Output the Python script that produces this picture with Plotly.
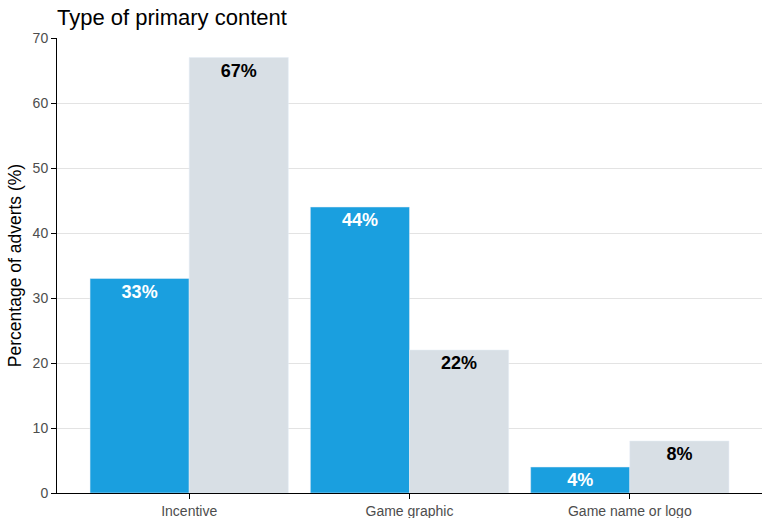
import plotly.graph_objects as go

categories = ["Incentive", "Game graphic", "Game name or logo"]
series_a = [33, 44, 4]
series_b = [67, 22, 8]
labels_a = ["33%", "44%", "4%"]
labels_b = ["67%", "22%", "8%"]

fig = go.Figure()
fig.add_trace(go.Bar(x=categories, y=series_a, text=labels_a, marker_color="#1a9fdf",
                     textposition="inside", insidetextanchor="end",
                     textfont=dict(color="white", size=18, family="Arial", weight="bold"),
                     showlegend=False))
fig.add_trace(go.Bar(x=categories, y=series_b, text=labels_b, marker_color="#d8dfe5",
                     textposition="inside", insidetextanchor="end",
                     textfont=dict(color="black", size=18, family="Arial", weight="bold"),
                     showlegend=False))

fig.update_layout(
    width=763, height=518,
    margin=dict(l=57, r=1, t=38, b=25),
    barmode="group", bargap=0.1, bargroupgap=0,
    plot_bgcolor="white", paper_bgcolor="white",
    font=dict(family="Arial", color="#4d4d4d", size=14),
    title=dict(text="Type of primary content", x=0, xref="paper", y=0.982, yanchor="top",
               xanchor="left", font=dict(size=22, color="black")),
    uniformtext=dict(mode="show", minsize=10),
)
fig.update_xaxes(range=[-0.6, 2.6], showline=True, linecolor="black", linewidth=1,
                 ticks="outside", ticklen=5, tickcolor="black", showgrid=False,
                 automargin=False,
                 tickfont=dict(size=14, color="#4d4d4d"))
fig.update_yaxes(range=[0, 70], dtick=10, showline=True, linecolor="black", linewidth=1,
                 ticks="outside", ticklen=5, tickcolor="black", gridcolor="#e3e3e3",
                 zeroline=False, automargin=False,
                 title=dict(text="Percentage of adverts (%)", font=dict(size=17.5, color="black"), standoff=6),
                 tickfont=dict(size=14, color="#4d4d4d"))

fig.write_html("out.html")
